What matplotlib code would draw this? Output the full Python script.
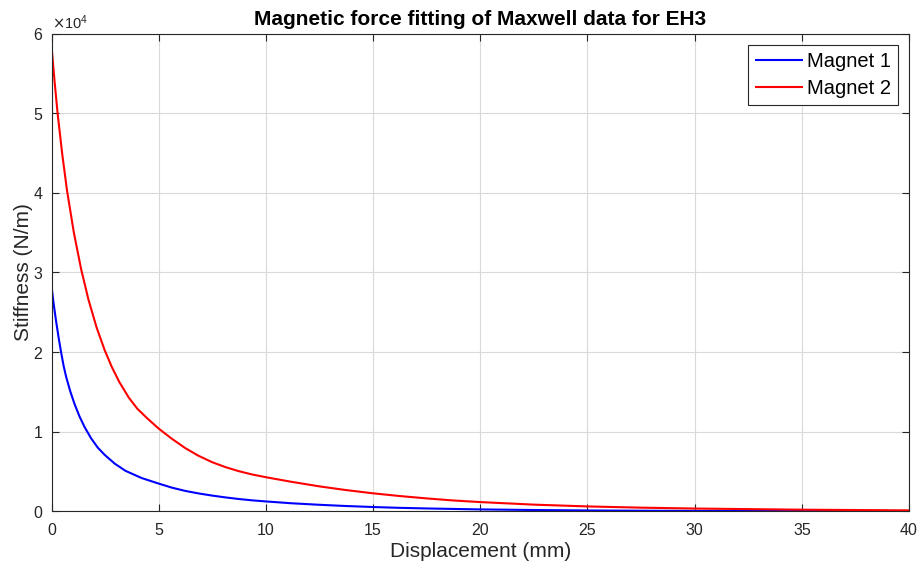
import matplotlib
matplotlib.use('Agg')
import matplotlib.pyplot as plt
from matplotlib.ticker import ScalarFormatter

# displacement (mm) and stiffness (N/m)
disp_m1 = [0, 0.1, 0.21, 0.33, 0.45, 0.56, 0.68, 0.87, 1.07, 1.3, 1.54, 1.84,
           2.16, 2.48, 2.95, 3.45, 4.2, 5.0, 5.6, 6.24, 6.85, 7.48, 8.1, 8.72,
           9.35, 10, 11.2, 12.5, 13.7, 15, 16.2, 17.5, 20, 22.5, 25, 27.5, 30,
           35, 40]
stiff_m1 = [28200, 26000, 23900, 21800, 19900, 18300, 16900, 15100, 13500,
            11950, 10600, 9200, 8000, 7100, 6000, 5100, 4200, 3500, 3000, 2580,
            2270, 2000, 1770, 1570, 1400, 1260, 1030, 840, 690, 560, 460, 380,
            260, 185, 130, 95, 70, 45, 30]

disp_m2 = [0, 0.14, 0.28, 0.5, 0.72, 1.04, 1.38, 1.72, 2.1, 2.47, 2.8, 3.15,
           3.6, 4.0, 4.5, 5.0, 5.6, 6.24, 6.85, 7.48, 8.1, 8.72, 9.35, 10,
           11.2, 12.5, 13.7, 15, 16.2, 17.5, 18.7, 20, 22.5, 25, 27.5, 30, 35,
           40]
stiff_m2 = [58300, 54000, 50000, 44800, 40300, 35000, 30400, 26600, 23100,
            20300, 18200, 16300, 14300, 12900, 11600, 10400, 9150, 7950, 7000,
            6200, 5580, 5070, 4650, 4300, 3720, 3150, 2700, 2280, 1950, 1640,
            1390, 1180, 860, 635, 480, 370, 225, 140]

labels = ['Magnet 1', 'Magnet 2']

plt.rcParams['font.family'] = ['Liberation Sans', 'DejaVu Sans']
axcol = '#262626'

fig = plt.figure(figsize=(9.21, 5.68), dpi=100)
ax = fig.add_axes([0.056, 0.0995, 0.931, 0.8415])

ax.plot(disp_m1, stiff_m1, color='#0000ff', lw=1.5, label=labels[0])
ax.plot(disp_m2, stiff_m2, color='#ff0000', lw=1.5, label=labels[1])

ax.set_xlim(0, 40)
ax.set_ylim(0, 60000)
ax.set_xticks(range(0, 41, 5))
ax.set_yticks(range(0, 60001, 10000))

fmt = ScalarFormatter(useMathText=True)
fmt.set_powerlimits((0, 0))
ax.yaxis.set_major_formatter(fmt)
ax.yaxis.get_offset_text().set_fontsize(10.5)
ax.yaxis.get_offset_text().set_color(axcol)

ax.grid(True, color='#d9d9d9', lw=0.8)
ax.tick_params(direction='in', top=True, right=True, labelsize=11.5,
               colors=axcol, length=5)
ax.tick_params(axis='x', pad=8)
ax.tick_params(axis='y', pad=6)
for s in ax.spines.values():
    s.set_color(axcol)
    s.set_linewidth(0.8)

ax.set_xlabel('Displacement (mm)', fontsize=15, color=axcol, labelpad=3)
ax.set_ylabel('Stiffness (N/m)', fontsize=15, color=axcol, labelpad=0)
ax.set_title('Magnetic force fitting of Maxwell data for EH3', fontsize=15,
             fontweight='bold', pad=6)

leg = ax.legend(loc='upper right', fontsize=14.5, fancybox=False, framealpha=1,
                edgecolor=axcol, handlelength=2.3, handletextpad=0.25,
                borderpad=0.35, labelspacing=0.4, borderaxespad=0.55)
leg.get_frame().set_linewidth(0.8)

fig.savefig('out.png', dpi=100)
